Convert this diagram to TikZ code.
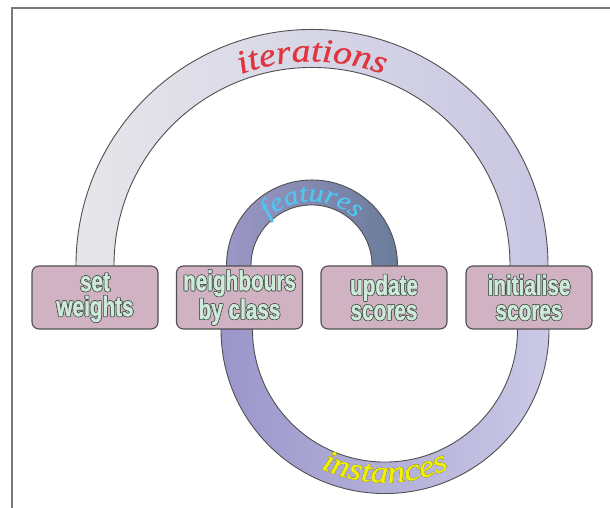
\documentclass[tikz,border=0pt]{standalone}
\usepackage{fontspec}
\usetikzlibrary{decorations.text,calc}
\newfontfamily\boxfont[FakeStretch=0.74,FakeBold=1.2]{Liberation Sans}
\newfontfamily\arcfamily[FakeStretch=1.15,FakeBold=0.8]{Liberation Serif}
\newcommand\arcfont{\arcfamily\itshape}
\definecolor{edge}{HTML}{505050}
\definecolor{frame}{HTML}{7A7A7A}
\definecolor{boxfill}{HTML}{D1B2C2}
\definecolor{mint}{HTML}{CDEBD8}
\definecolor{txtol}{HTML}{4A5550}
\definecolor{itL}{HTML}{E6E6EA}
\definecolor{itR}{HTML}{C8C6E2}
\definecolor{feL}{HTML}{9B96C6}
\definecolor{feR}{HTML}{6A7C99}
\definecolor{inL}{HTML}{9A96CA}
\definecolor{inR}{HTML}{CBC9E6}
\definecolor{itred}{HTML}{E0343F}
\definecolor{fecyan}{HTML}{4FC6F2}
\definecolor{inyel}{HTML}{F2F200}
\definecolor{inol}{HTML}{8A8A30}
\newcommand\olt[1]{{\setbox0=\hbox{#1}%
 \leavevmode\rlap{\color{txtol}%
  \rlap{\kern.7pt\copy0}\rlap{\kern-.7pt\copy0}%
  \rlap{\raise.7pt\copy0}\rlap{\raise-.7pt\copy0}%
  \rlap{\kern.5pt\raise.5pt\copy0}\rlap{\kern-.5pt\raise.5pt\copy0}%
  \rlap{\kern.5pt\raise-.5pt\copy0}\rlap{\kern-.5pt\raise-.5pt\copy0}}%
 {\color{mint}\box0}}}
\begin{document}
\begin{tikzpicture}[x=1pt,y=1pt,
 box/.style={rectangle, rounded corners=7pt, minimum width=126pt, minimum height=63pt,
   fill=boxfill, draw=edge, line width=1.1pt, align=center, inner sep=0pt,
   font=\boxfont\bfseries\fontsize{28}{25}\selectfont},
 band/.style={draw=edge, line width=0.9pt}]
\useasboundingbox (0,0) rectangle (610,508);
\fill[white] (0,0) rectangle (610,508);
\draw[frame, line width=1.5pt] (12,0) -- (12,500) -- (610,500);

% box nodes (positions only, drawn later on top)
\path (95,210.5) coordinate (c1) (239.5,210.5) coordinate (c2)
      (384,210.5) coordinate (c3) (529,210.5) coordinate (c4);
\path (c1) node[box, opacity=0] (b1) {} (c2) node[box, opacity=0] (b2) {}
      (c3) node[box, opacity=0] (b3) {} (c4) node[box, opacity=0] (b4) {};

% iterations band (b1 -> b4)
\path[band, left color=itL, right color=itR]
  ([xshift=-19pt,yshift=-5pt]b1.north) -- ++(0,5pt)
  arc[start angle=180, end angle=0, radius=236pt] -- ++(0,-5pt)
  -- ([xshift=-19pt,yshift=-5pt]b4.north) -- ++(0,5pt)
  arc[start angle=0, end angle=180, radius=198pt] -- ++(0,-5pt) -- cycle;
% features band (b2 -> b3)
\path[band, left color=feL, right color=feR]
  ([xshift=-13pt,yshift=-5pt]b2.north) -- ++(0,5pt)
  arc[start angle=180, end angle=0, radius=85.5pt] -- ++(0,-5pt)
  -- ([xshift=-12pt,yshift=-5pt]b3.north) -- ++(0,5pt)
  arc[start angle=0, end angle=180, radius=60.5pt] -- ++(0,-5pt) -- cycle;
% instances band (b2 -> b4)
\path[band, left color=inL, right color=inR]
  ([xshift=-18.5pt,yshift=5pt]b2.south) -- ++(0,-5pt)
  arc[start angle=180, end angle=360, radius=164pt] -- ++(0,5pt)
  -- ([xshift=-11.5pt,yshift=5pt]b4.south) -- ++(0,-5pt)
  arc[start angle=0, end angle=-180, radius=132.5pt] -- ++(0,5pt) -- cycle;

% labels along the bands
\path[decorate, decoration={text along path, text align=center,
   text={|\arcfont\fontsize{33}{33}\selectfont\color{itred}|iterations}}]
  ($(b1.north)!0.5!(b4.north)+(-204,0)$) arc[start angle=180, end angle=0, radius=204pt];
\path[decorate, decoration={text along path, text align=center,
   text={|\arcfont\fontsize{26}{26}\selectfont\color{fecyan}|features}}]
  ($(b2.north)!0.5!(b3.north)+(-64,0)$) arc[start angle=180, end angle=0, radius=64pt];
\foreach \dx/\dy in {0.6/0,-0.6/0,0/0.6,0/-0.6,0.45/0.45,-0.45/0.45,0.45/-0.45,-0.45/-0.45}{
 \path[shift={(\dx,\dy)}, decorate, decoration={text along path, text align=center,
   text={|\arcfont\fontsize{31}{31}\selectfont\color{inol}|instances}}]
  ($(b2.south)+(145.5-153,0)$) arc[start angle=180, end angle=360, radius=153pt];
}
\path[decorate, decoration={text along path, text align=center,
   text={|\arcfont\fontsize{31}{31}\selectfont\color{inyel}|instances}}]
  ($(b2.south)+(145.5-153,0)$) arc[start angle=180, end angle=360, radius=153pt];

% boxes on top
\node[box] at (c1) {\olt{set}\\\olt{weights}};
\node[box] at (c2) {\olt{neighbours}\\\olt{by class}};
\node[box] at (c3) {\olt{update}\\\olt{scores}};
\node[box] at (c4) {\olt{initialise}\\\olt{scores}};
\end{tikzpicture}
\end{document}
